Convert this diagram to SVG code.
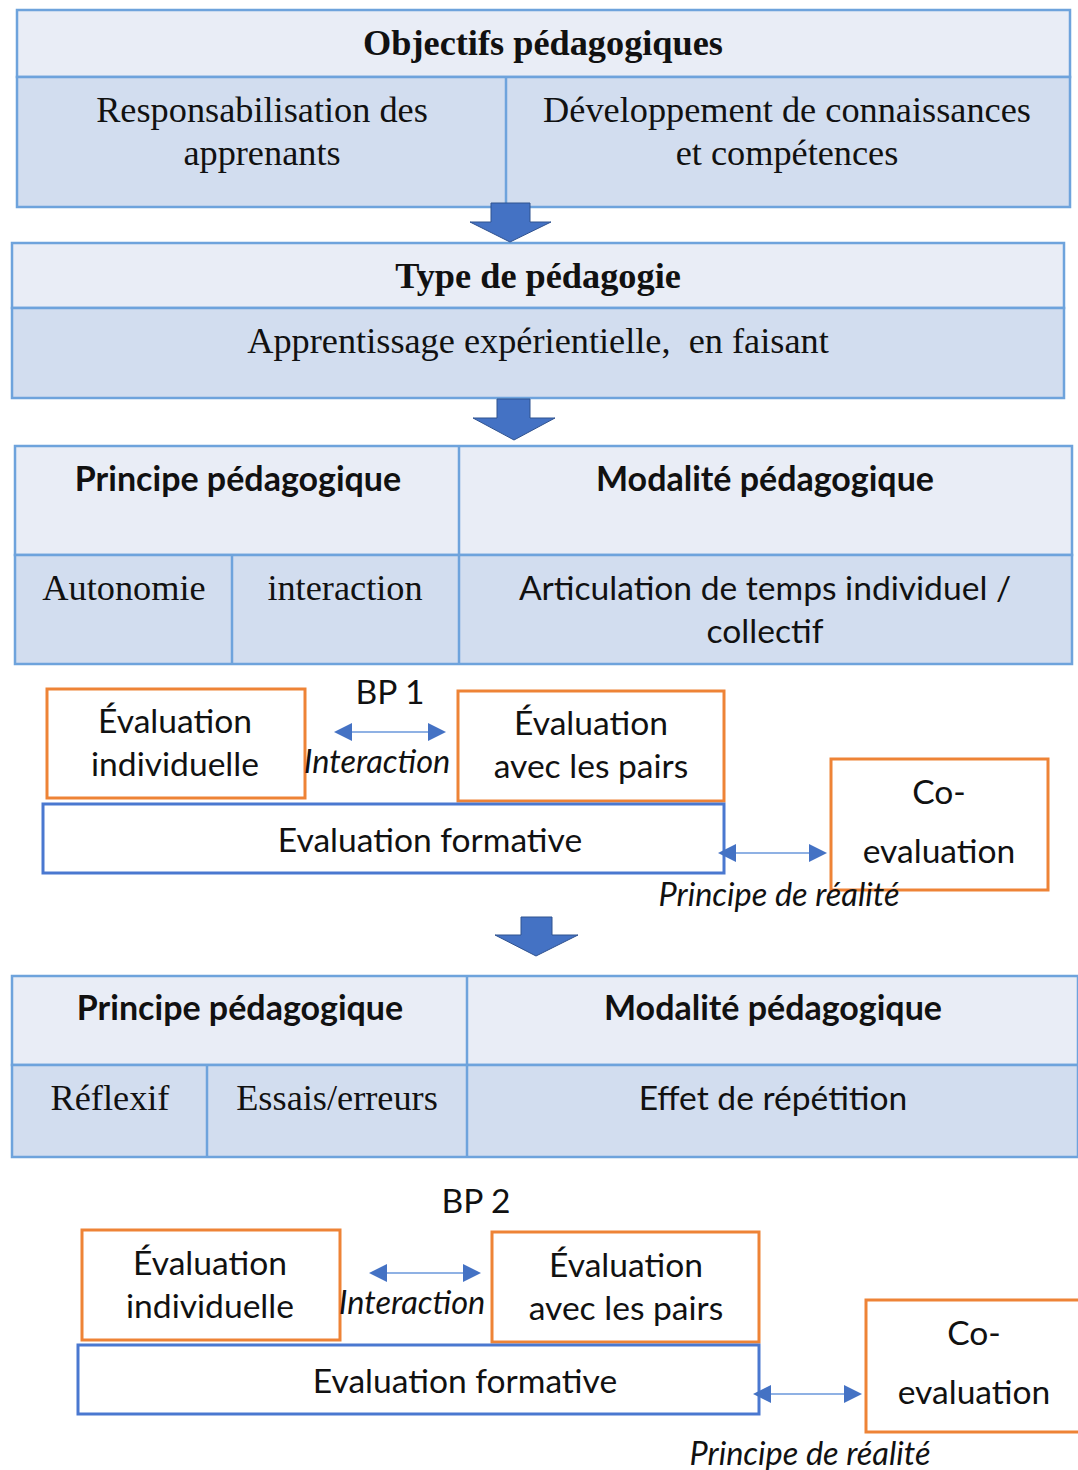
<svg xmlns="http://www.w3.org/2000/svg" width="1078" height="1470" viewBox="0 0 1078 1470">
<defs>
<style>
.hd{fill:#e9edf6;stroke:#6ea3dc;stroke-width:2.5}
.rw{fill:#d2ddef;stroke:#6ea3dc;stroke-width:2.5}
.ln{stroke:#6ea3dc;stroke-width:2.5;fill:none}
.ob{fill:#ffffff;stroke:#ee8336;stroke-width:3}
.bb{fill:#ffffff;stroke:#4a78d0;stroke-width:3}
.ba{fill:#4472c4;stroke:#2f528f;stroke-width:1}
.da{stroke:#8fb1e4;stroke-width:2;fill:none}
.ah{fill:#4472c4}
.se{font-family:"Liberation Serif","Times New Roman",serif;font-size:36.3px;fill:#111;text-anchor:middle}
.seb{font-family:"Liberation Serif","Times New Roman",serif;font-size:36.3px;font-weight:bold;fill:#111;text-anchor:middle}
.sa{font-family:Lato,"Liberation Sans",sans-serif;font-size:33.6px;fill:#111;text-anchor:middle}
.sab{font-family:Lato,"Liberation Sans",sans-serif;font-size:34px;font-weight:bold;fill:#111;text-anchor:middle}
.it{font-family:Lato,"Liberation Sans",sans-serif;font-size:32.5px;font-style:italic;fill:#111;text-anchor:middle}
</style>
</defs>

<g id="objectifs">
<rect class="hd" x="17" y="10" width="1053" height="67"/>
<rect class="rw" x="17" y="77" width="1053" height="130"/>
<line class="ln" x1="506" y1="77" x2="506" y2="207"/>
<text class="seb" x="543" y="55">Objectifs pédagogiques</text>
<text class="se" x="262" y="122">Responsabilisation des</text>
<text class="se" x="262" y="165">apprenants</text>
<text class="se" x="787" y="122">Développement de connaissances</text>
<text class="se" x="787" y="165">et compétences</text>
</g>

<g id="type">
<rect class="hd" x="12" y="243" width="1052" height="65"/>
<rect class="rw" x="12" y="308" width="1052" height="90"/>
<text class="seb" x="538" y="288">Type de pédagogie</text>
<text class="se" x="538" y="353">Apprentissage expérientielle,&#160; en faisant</text>
</g>

<g id="principe1">
<rect class="hd" x="15" y="446" width="1057" height="109"/>
<rect class="rw" x="15" y="555" width="1057" height="109"/>
<line class="ln" x1="459" y1="446" x2="459" y2="664"/>
<line class="ln" x1="232" y1="555" x2="232" y2="664"/>
<text class="sab" x="238" y="491">Principe pédagogique</text>
<text class="sab" x="765" y="491">Modalité pédagogique</text>
<text class="se" x="124" y="600">Autonomie</text>
<text class="se" x="345" y="600">interaction</text>
<text class="sa" x="765" y="600">Articulation de temps individuel /</text>
<text class="sa" x="765" y="643">collectif</text>
</g>

<g id="bp1">
<text class="sa" x="390" y="704">BP 1</text>
<rect class="ob" x="47" y="689" width="258" height="109"/>
<text class="sa" x="175" y="733">Évaluation</text>
<text class="sa" x="175" y="776">individuelle</text>
<rect class="ob" x="458" y="691" width="266" height="110"/>
<text class="sa" x="591" y="735">Évaluation</text>
<text class="sa" x="591" y="778">avec les pairs</text>
<rect class="bb" x="43" y="804" width="681" height="69"/>
<text class="sa" x="430" y="852">Evaluation formative</text>
<rect class="ob" x="831" y="759" width="217" height="131"/>
<text class="sa" x="939" y="804">Co-</text>
<text class="sa" x="939" y="863">evaluation</text>
<text class="it" x="377" y="773">Interaction</text>
<text class="it" x="779" y="906">Principe de réalité</text>
</g>

<g id="principe2">
<rect class="hd" x="12" y="976" width="1066" height="89"/>
<rect class="rw" x="12" y="1065" width="1066" height="92"/>
<line class="ln" x1="467" y1="976" x2="467" y2="1157"/>
<line class="ln" x1="207" y1="1065" x2="207" y2="1157"/>
<text class="sab" x="240" y="1020">Principe pédagogique</text>
<text class="sab" x="773" y="1020">Modalité pédagogique</text>
<text class="se" x="110" y="1110">Réflexif</text>
<text class="se" x="337" y="1110">Essais/erreurs</text>
<text class="sa" x="773" y="1110">Effet de répétition</text>
</g>

<g id="bp2">
<text class="sa" x="476" y="1213">BP 2</text>
<rect class="ob" x="82" y="1230" width="258" height="110"/>
<text class="sa" x="210" y="1275">Évaluation</text>
<text class="sa" x="210" y="1318">individuelle</text>
<rect class="ob" x="492" y="1232" width="267" height="110"/>
<text class="sa" x="626" y="1277">Évaluation</text>
<text class="sa" x="626" y="1320">avec les pairs</text>
<rect class="bb" x="78" y="1345" width="681" height="69"/>
<text class="sa" x="465" y="1393">Evaluation formative</text>
<rect class="ob" x="866" y="1300" width="220" height="132"/>
<text class="sa" x="974" y="1345">Co-</text>
<text class="sa" x="974" y="1404">evaluation</text>
<text class="it" x="412" y="1314">Interaction</text>
<text class="it" x="810" y="1465">Principe de réalité</text>
</g>

<g id="connectors">
<path class="ba" d="M491,203 H530 V222 H551 L510,242 L470,222 H491 Z"/>
<path class="ba" d="M497,399 H530 V418 H555 L514,440 L473,418 H497 Z"/>
<path class="ba" d="M521,917 H552 V935 H578 L536,956 L495,935 H521 Z"/>
<line class="da" x1="348" y1="732" x2="432" y2="732"/>
<path class="ah" d="M334,732 L352,723 L352,741 Z"/>
<path class="ah" d="M446,732 L428,723 L428,741 Z"/>
<line class="da" x1="732" y1="853" x2="812" y2="853"/>
<path class="ah" d="M718,853 L736,844 L736,862 Z"/>
<path class="ah" d="M827,853 L809,844 L809,862 Z"/>
<line class="da" x1="383" y1="1273" x2="466" y2="1273"/>
<path class="ah" d="M369,1273 L387,1264 L387,1282 Z"/>
<path class="ah" d="M481,1273 L463,1264 L463,1282 Z"/>
<line class="da" x1="767" y1="1394" x2="847" y2="1394"/>
<path class="ah" d="M753,1394 L771,1385 L771,1403 Z"/>
<path class="ah" d="M862,1394 L844,1385 L844,1403 Z"/>
</g>
</svg>
